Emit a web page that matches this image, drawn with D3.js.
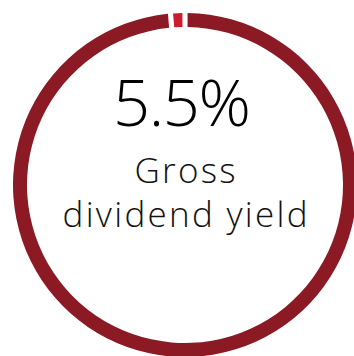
<!DOCTYPE html>
<html>
<head>
<meta charset="utf-8">
<script src="https://cdn.jsdelivr.net/npm/d3@7"></script>
<style>
  html, body { margin: 0; padding: 0; background: #fff; }
  svg { display: block; }
</style>
</head>
<body>
<div id="chart-container"></div>
<script>
// Ring segments (share of the circle) and their colours
const segments = ["rest", "marker"];
const segmentValues = [99, 1];
const segmentColors = ["#8c1a24", "#c81e2e"];

// Headline figure and caption lines
const headline = "5.5%";
const captionLines = ["Gross", "dividend yield"];

const width = 354, height = 356;
const cx = 185, cy = 185;
const outerR = 172, innerR = 158;

const svg = d3.select("#chart-container")
    .append("svg")
    .attr("width", width)
    .attr("height", height);

const g = svg.append("g")
    .attr("transform", "translate(" + cx + "," + cy + ")");

// Pie layout, keep the data order (big slice first, from 12 o'clock)
const pie = d3.pie()
    .sort(null)
    .padAngle(0.022)
    .value(d => d.value);

const arc = d3.arc()
    .innerRadius(innerR)
    .outerRadius(outerR);

const pieData = pie(segments.map((s, i) => ({ name: s, value: segmentValues[i], color: segmentColors[i] })));

g.selectAll("path")
    .data(pieData)
    .enter()
    .append("path")
    .attr("d", arc)
    .attr("fill", d => d.data.color);

// Big number
const big = g.append("text")
    .attr("x", -3)
    .attr("y", -59)
    .attr("text-anchor", "middle")
    .style("font-family", "'Open Sans', Roboto, sans-serif")
    .style("font-weight", 300)
    .style("font-size", "65px")
    .style("fill", "#000")
    .text(headline);

// Caption
const caps = g.selectAll(".caption")
    .data(captionLines)
    .enter()
    .append("text")
    .attr("class", "caption")
    .attr("x", 0)
    .attr("y", (d, i) => -2 + i * 43.5)
    .attr("text-anchor", "middle")
    .style("font-family", "'Open Sans', Roboto, sans-serif")
    .style("font-weight", 300)
    .style("font-size", "35px")
    .style("fill", "#111")
    .text(d => d);

// stretch to the widths seen in the reference
const targetWidths = [101, 245];
big.attr("textLength", 138).attr("lengthAdjust", "spacing");
caps.each(function(d, i) {
    d3.select(this).attr("textLength", targetWidths[i]).attr("lengthAdjust", "spacing");
});
</script>
</body>
</html>
